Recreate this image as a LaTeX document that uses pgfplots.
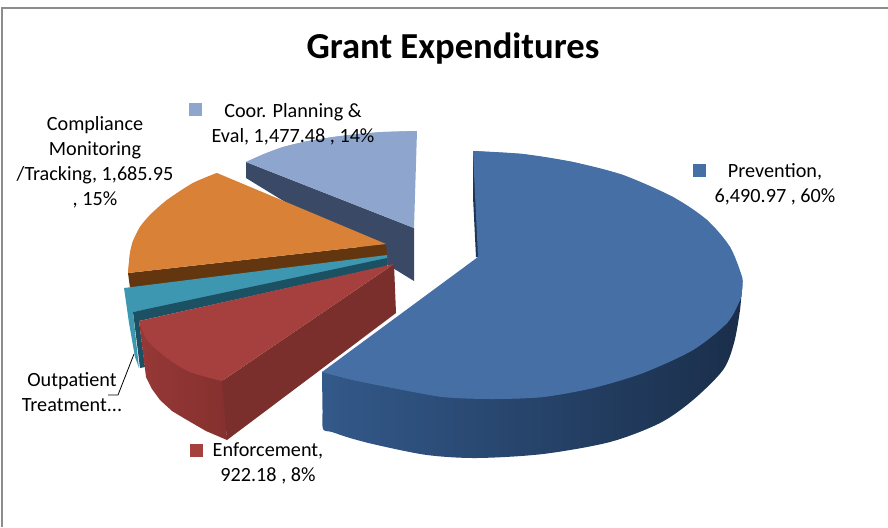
\documentclass[border=0pt]{standalone}
\usepackage{pgfplots}
\pgfplotsset{compat=1.18}
\usepackage{fontspec}
\setmainfont{Carlito}
\definecolor{bluetop}{HTML}{4670A5}
\definecolor{blueA}{HTML}{33598A}
\definecolor{blueB}{HTML}{1A2E4A}
\definecolor{blueedge}{HTML}{1F3554}
\definecolor{redtop}{HTML}{A5403F}
\definecolor{redwall}{HTML}{7A2F2C}
\definecolor{redA}{HTML}{963836}
\definecolor{redB}{HTML}{85312F}
\definecolor{tealtop}{HTML}{3D97B1}
\definecolor{tealwall}{HTML}{1B5163}
\definecolor{orangetop}{HTML}{D98237}
\definecolor{orangewall}{HTML}{643610}
\definecolor{ltop}{HTML}{8EA6CD}
\definecolor{lwall}{HTML}{3A4A66}
\definecolor{framec}{HTML}{8C8C8C}
\begin{document}
\begin{tikzpicture}
\useasboundingbox (0,0) rectangle (888pt,527pt);
\begin{axis}[at={(0,0)},anchor=south west,scale only axis,width=888pt,height=527pt,
  xmin=0,xmax=888,ymin=0,ymax=527,y dir=reverse,hide axis,clip=false,
  curved/.style={smooth,tension=0.5}]
% frame
\addplot[framec,line width=1.2pt] coordinates {(2,527)(2,8)(888,8)};
% light blue slice
\addplot[fill=lwall,draw=none] coordinates {(246,162)(414,228)(414,281)(246,178)} --cycle;
\addplot[fill=ltop,draw=none,curved] coordinates {(417,131)(383,132)(358,134)(333,137)(308,141)(283,147)(264,154)(246,162)} --cycle;
\addplot[fill=ltop,draw=none] coordinates {(417,131)(383,132)(358,134)(333,137)(308,141)(283,147)(264,154)(246,162)(414,228)} --cycle;
% orange slice
\addplot[fill=orangewall,draw=none] coordinates {(128,273)(386,244)(387,257)(130,288)} --cycle;
\addplot[fill=orangetop,draw=none,curved] coordinates {(217,173)(193,183)(167,200)(150,215)(140,227)(133,241)(130,253)(128,273)} --cycle;
\addplot[fill=orangetop,draw=none] coordinates {(217,173)(193,183)(167,200)(150,215)(140,227)(133,241)(130,253)(128,273)(386,244)} --cycle;
% teal slice
\addplot[fill=tealtop,draw=none] coordinates {(124,288)(387,255)(387,264)(133,312)(139,368)(135,357)(129,323)} --cycle;
\addplot[fill=tealwall,draw=none] coordinates {(133,312)(387,258)(387,266)(139,321)(145,367)(140,368)} --cycle;
% red slice
\addplot[left color=redA,right color=redB,draw=none] coordinates {(139,321)(146,377)(152,389)(160,400)(172,411)(187,420)(206,431)(227,440)(224,381)} --cycle;
\addplot[fill=redwall,draw=none] coordinates {(222,381)(394,264)(396,313)(227,440)} --cycle;
\addplot[fill=redtop,draw=none,curved] coordinates {(139,321)(147,340)(167,358)(190,372)(222,381)} --cycle;
\addplot[fill=redtop,draw=none] coordinates {(394,264)(139,321)(147,340)(167,358)(190,372)(222,381)} --cycle;
% blue slice
\addplot[left color=blueA,right color=blueB,middle color=blueB!50!blueA,draw=none,curved] coordinates {(322,372)(322.5,410)(323,429)(332,432)(350,438)(377,445)(427,455)(477,458)(543,454)(610,442)(660,423)(693,400)(723,370)(734,343)(740,310)(742,285)} --cycle;
\addplot[fill=blueedge,draw=none] coordinates {(473,151)(473,197)(476,257)(479,257)(475,163)} --cycle;
\addplot[fill=bluetop,draw=none,curved] coordinates {(473,151)(523,154)(573,162)(623,175)(673,197)(707,220)(730,247)(742,277)(742,290)(740,300)(727,323)} --cycle;
\addplot[fill=bluetop,draw=none,curved] coordinates {(742,277)(742,290)(740,300)(727,323)(693,350)(643,373)(593,388)(543,397)(493,399)(443,397)(393,388)(353,380)(322,372)} --cycle;
\addplot[fill=bluetop,draw=none] coordinates {(473,151)(523,154)(573,162)(623,175)(673,197)(707,220)(730,247)(742,277)(742,290)(740,300)(727,323)(693,350)(643,373)(593,388)(543,397)(493,399)(443,397)(393,388)(353,380)(322,372)(478,257)} --cycle;
% leader
\addplot[black,line width=0.8pt] coordinates {(134,354)(118,395)(108,395)};
% legend keys
\addplot[only marks,mark=square*,mark size=6pt,mark options={draw=ltop,fill=ltop}] coordinates {(195,109)};
\addplot[only marks,mark=square*,mark size=6pt,mark options={draw=bluetop,fill=bluetop}] coordinates {(699,170)};
\addplot[only marks,mark=square*,mark size=6pt,mark options={draw=redtop,fill=redtop}] coordinates {(196,450)};
% texts
\node[font=\fontsize{36.6}{42}\selectfont\bfseries] at (axis cs:453,49) {Grant Expenditures};
\def\lab{\fontsize{20.2}{25}\selectfont}
\node[font=\lab,align=center] at (axis cs:293,124) {Coor. Planning \&\\Eval, 1,477.48 , 14\%};
\node[font=\lab,align=center] at (axis cs:95,162) {Compliance\\Monitoring\\/Tracking, 1,685.95\\, 15\%};
\node[font=\lab,align=center] at (axis cs:775,184) {Prevention,\\6,490.97 , 60\%};
\node[font=\lab,align=center] at (axis cs:72,392) {Outpatient\\Treatment...};
\node[font=\lab,align=center] at (axis cs:268,463) {Enforcement,\\922.18 , 8\%};
\end{axis}
\end{tikzpicture}
\end{document}
